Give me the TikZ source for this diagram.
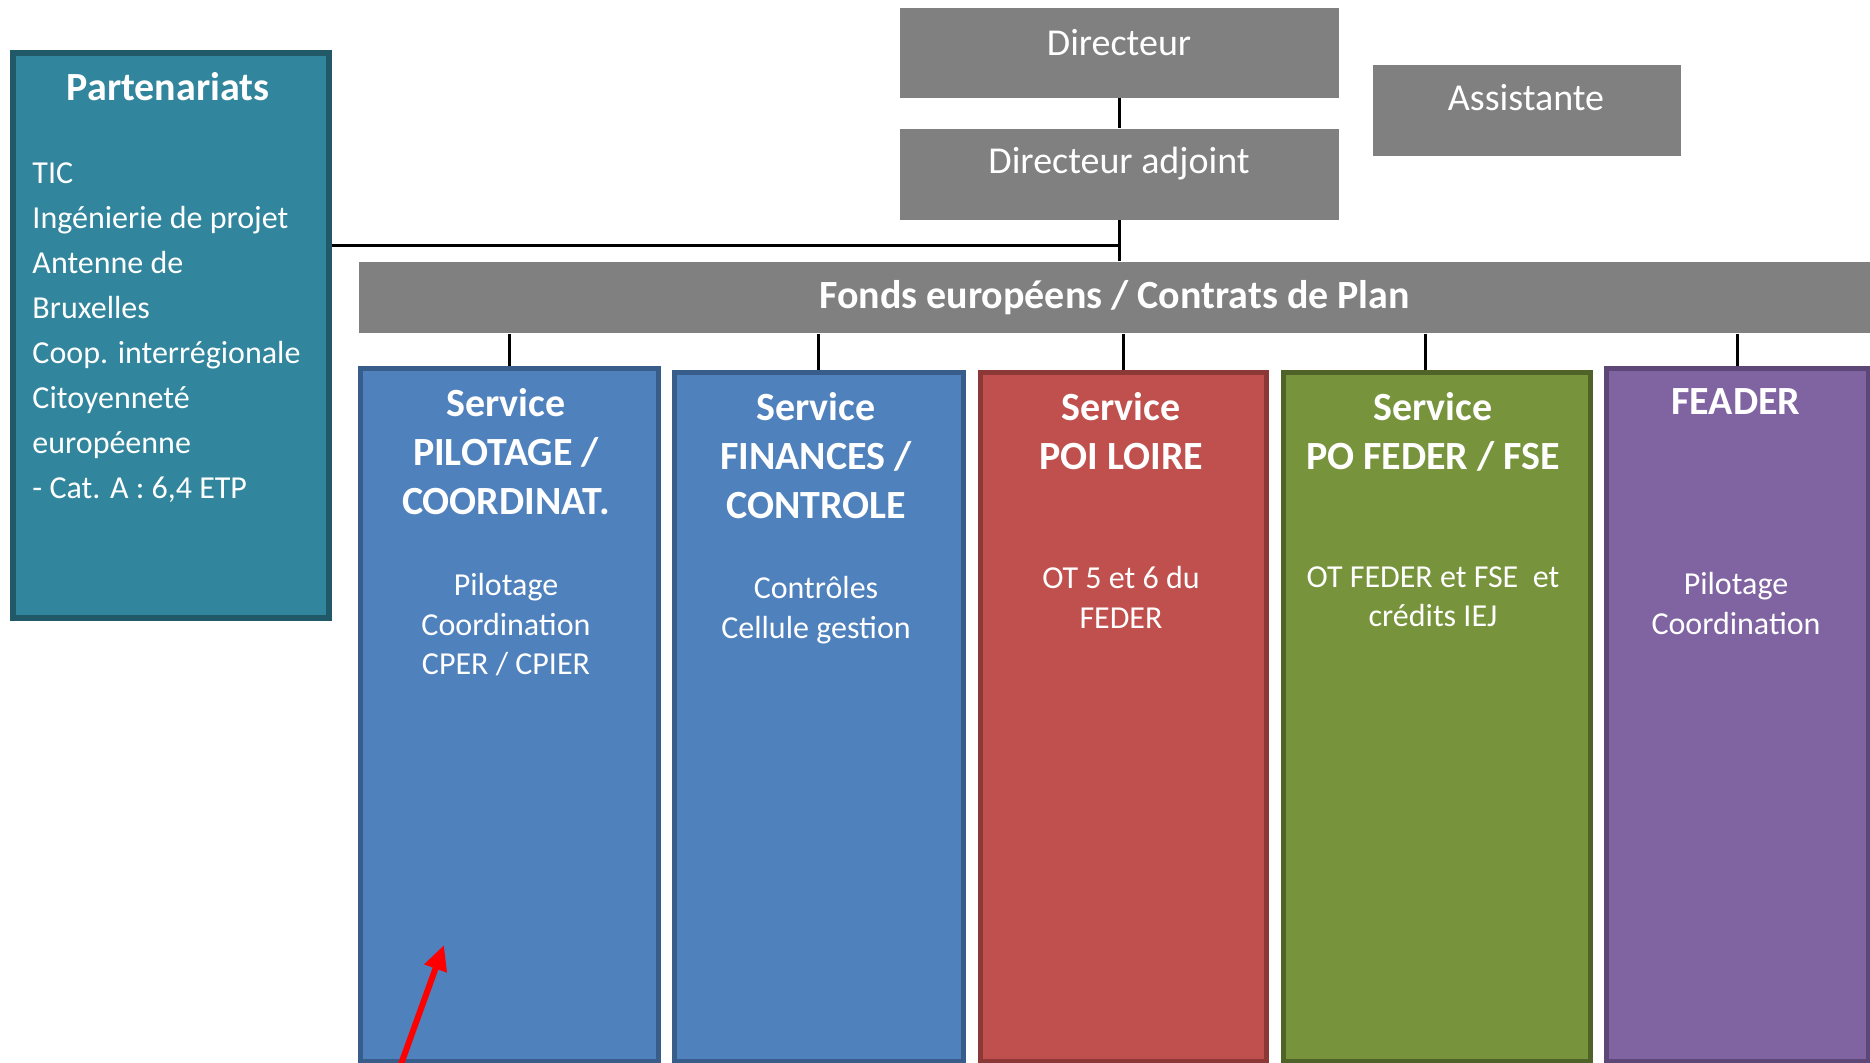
\documentclass[tikz,border=0pt]{standalone}
\usepackage{fontspec}
\setmainfont{Carlito}
\usetikzlibrary{positioning}
\usetikzlibrary{arrows.meta}
\definecolor{grisfond}{HTML}{808080}
\definecolor{bleufond}{HTML}{4F81BD}
\definecolor{bleutrait}{HTML}{385D8A}
\definecolor{rougefond}{HTML}{C0504D}
\definecolor{rougetrait}{HTML}{8C3836}
\definecolor{vertfond}{HTML}{77933C}
\definecolor{verttrait}{HTML}{4F6228}
\definecolor{violetfond}{HTML}{8064A2}
\definecolor{violettrait}{HTML}{5C4776}
\definecolor{canardfond}{HTML}{31859C}
\definecolor{canardtrait}{HTML}{215968}
\tikzstyle{grisbox}=[rectangle,fill=grisfond,draw=none,inner sep=0pt,anchor=north west]
\tikzstyle{svcbox}=[rectangle,line width=2pt,inner sep=0pt,anchor=north west]
\tikzstyle{titre}=[font=\fontsize{16}{19.6}\selectfont\bfseries,text=white,align=center,inner sep=0pt,anchor=north]
\tikzstyle{corps}=[font=\fontsize{12.8}{15.8}\selectfont,text=white,align=center,inner sep=0pt,anchor=north]
\tikzstyle{gristxt}=[font=\fontsize{15.2}{18}\selectfont,text=white,inner sep=0pt,anchor=north]
\tikzstyle{liste}=[font=\fontsize{12.8}{18}\selectfont,text=white,align=left,inner sep=0pt,anchor=north west]
\tikzstyle{lien}=[line width=1.2pt,black]

\begin{document}
\begin{tikzpicture}[x=0.4pt,y=-0.4pt]

  \useasboundingbox (0,0) rectangle (1870,1062);

  % direction
  \node[grisbox,minimum width=439*0.4pt,minimum height=90*0.4pt] (dir) at (899,7) {};
  \node[grisbox,minimum width=439*0.4pt,minimum height=91*0.4pt] (adj) at (899,128) {};
  \node[grisbox,minimum width=308*0.4pt,minimum height=91*0.4pt] (assist) at (1372,64) {};
  \node[gristxt] (dir-txt) at (1119,29) {Directeur};
  \node[gristxt] (adj-txt) at (1119,147) {Directeur adjoint};
  \node[gristxt] (assist-txt) at (1526,84) {Assistante};

  \node[grisbox,minimum width=1512*0.4pt,minimum height=71.5*0.4pt,
        font=\fontsize{16}{18}\selectfont\bfseries,text=white] (fonds) at (358,261)
        {Fonds européens / Contrats de Plan};

  % partenariats
  \node[svcbox,fill=canardfond,draw=canardtrait,line width=2.4pt,
        minimum width=316*0.4pt,minimum height=565*0.4pt] (part) at (10,50) {};
  \node[titre] (part-titre) at (168,72) {Partenariats};
  \node[liste] (part-liste) at (32,162) {TIC\\Ingénierie de projet\\Antenne de\\Bruxelles\\
        Coop. interrégionale\\Citoyenneté\\européenne\\- Cat. A : 6,4 ETP};

  % services
  \foreach \nom/\x/\y/\w/\fond/\bord in {pil/357.5/366/298/bleufond/bleutrait,
        fin/671.5/369.5/289.5/bleufond/bleutrait, poi/978/369.5/285.5/rougefond/rougetrait,
        feder/1280.5/369.5/307/vertfond/verttrait, feader/1603.5/366/262.5/violetfond/violettrait}
    \node[svcbox,fill=\fond,draw=\bord,minimum width=\w*0.4pt,minimum height=(1059-\y)*0.4pt] (\nom) at (\x,\y) {};

  \node[titre] (pil-titre) at (506,388) {Service\\PILOTAGE /\\COORDINAT.};
  \node[corps] (pil-txt) at (506,573) {Pilotage\\Coordination\\CPER / CPIER};
  \node[titre] (fin-titre) at (816,392) {Service\\FINANCES /\\CONTROLE};
  \node[corps] (fin-txt) at (816,576) {Contrôles\\Cellule gestion};
  \node[titre] (poi-titre) at (1121,392) {Service\\POI LOIRE};
  \node[corps] (poi-txt) at (1121,566) {OT 5 et 6 du\\FEDER};
  \node[titre] (feder-titre) at (1433,392) {Service\\PO FEDER / FSE};
  \node[corps] (feder-txt) at (1433,566) {OT FEDER et FSE~~et\\crédits IEJ};
  \node[titre] (feader-titre) at (1736,388) {FEADER};
  \node[corps] (feader-txt) at (1736,572) {Pilotage\\Coordination};

  % liens
  \coordinate (jonction) at (1119,245.5);
  \draw[lien] (dir.south) -- (adj.north);
  \draw[lien] (adj.south) -- (adj.south |- fonds.north);
  \draw[lien,line width=1.3pt] (jonction -| part.east) -- (jonction);
  \foreach \nom in {pil,fin,poi,feader}
    \draw[lien] (fonds.south -| \nom.north) -- (\nom.north);
  \draw[lien] ([xshift=-4.4pt]fonds.south -| feder.north) -- ([xshift=-4.4pt]feder.north);

  % fleche
  \coordinate (fleche-depart) at (396,1078);
  \coordinate (fleche-pointe) at (444,945);
  \draw[-{Triangle[length=10pt,width=9pt]},line width=2.4pt,red] (fleche-depart) -- (fleche-pointe);

\end{tikzpicture}
\end{document}
